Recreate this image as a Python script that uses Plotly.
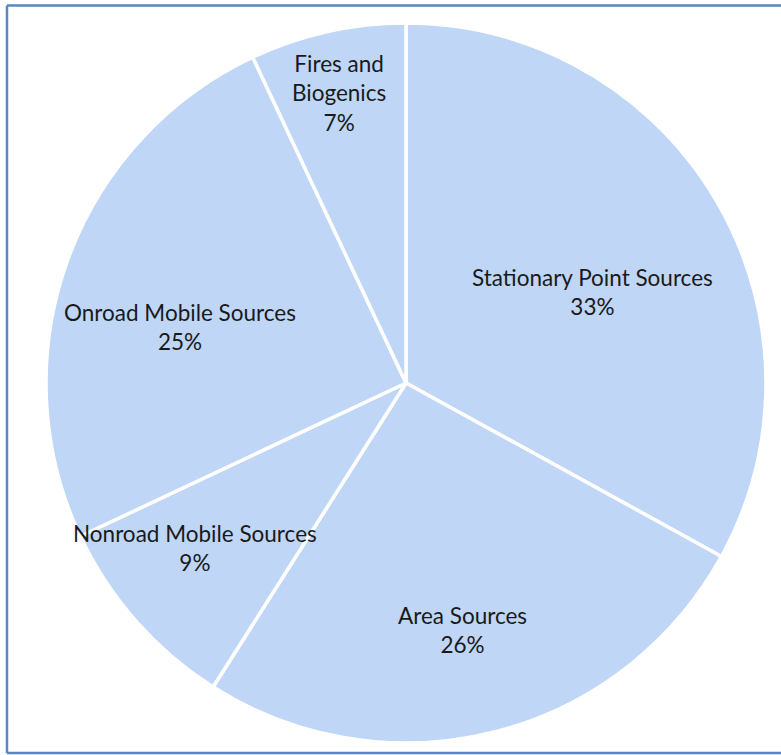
import math
import plotly.graph_objects as go

# emission source shares (percent), clockwise from 12 o'clock
Sources = ["Stationary Point Sources", "Area Sources", "Nonroad Mobile Sources",
           "Onroad Mobile Sources", "Fires and Biogenics"]
Shares = [33, 26, 9, 25, 7]
Label_Names = ["Stationary Point Sources", "Area Sources", "Nonroad Mobile Sources",
               "Onroad Mobile Sources", "Fires and<br>Biogenics"]

W, H = 781, 755
CX, CY, R = 406, 383, 360  # pie centre / radius in px

# where the data labels sit: (angle from 12 o'clock clockwise in deg, distance in px)
Label_Place = [(64, 207), (167, 253), (232, 268), (284, 233), (347, 298)]

fig = go.Figure(go.Pie(
    labels=Sources,
    values=Shares,
    textinfo="none",
    sort=False,
    direction="clockwise",
    rotation=0,
    marker=dict(colors=["#bfd6f7"] * len(Sources), line=dict(color="white", width=3.5)),
    domain=dict(x=[(CX - R) / W, (CX + R) / W], y=[(H - CY - R) / H, (H - CY + R) / H]),
    showlegend=False,
    hoverinfo="label+percent",
))

for Name, Share, (Ang, Dist) in zip(Label_Names, Shares, Label_Place):
    Px = CX + Dist * math.sin(math.radians(Ang))
    Py = CY - Dist * math.cos(math.radians(Ang))
    fig.add_annotation(x=Px / W, y=1 - Py / H, xref="paper", yref="paper",
                       xanchor="center", yanchor="middle",
                       text=f"{Name}<br>{Share}%", showarrow=False,
                       font=dict(family="Lato", size=22.5, color="#1a1a1a"))

# frame round the chart (right edge runs off the picture)
Frame_L, Frame_T, Frame_B = 7 / W, (H - 5.5) / H, (H - 753) / H
for X0, Y0, X1, Y1 in [(Frame_L, Frame_T, 1, Frame_T), (Frame_L, Frame_B, 1, Frame_B),
                       (Frame_L, Frame_B, Frame_L, Frame_T)]:
    fig.add_shape(type="line", xref="paper", yref="paper", x0=X0, y0=Y0, x1=X1, y1=Y1,
                  line=dict(color="#5a86c4", width=2.5))

fig.update_layout(
    width=W, height=H,
    margin=dict(l=0, r=0, t=0, b=0),
    paper_bgcolor="white",
    plot_bgcolor="white",
)
fig.write_html("out.html", config={"displayModeBar": False},
               post_script="document.body.style.margin='0';")
